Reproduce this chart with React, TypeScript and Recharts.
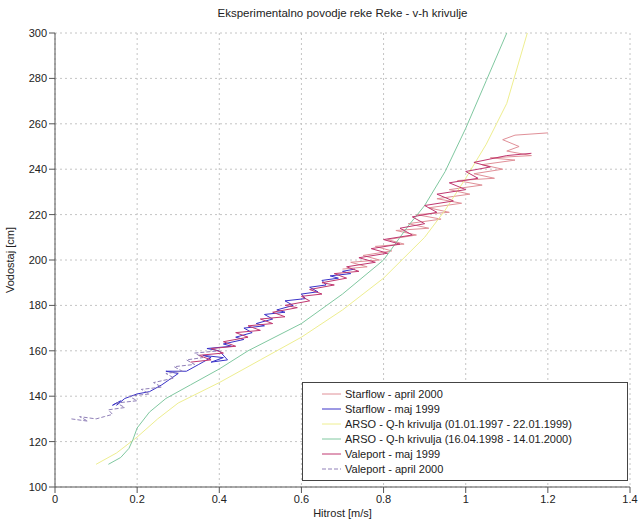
import { CartesianGrid, Label, Line, LineChart, XAxis, YAxis } from "recharts";

const xTicks = [0, 0.2, 0.4, 0.6, 0.8, 1, 1.2, 1.4];
const yTicks = [100, 120, 140, 160, 180, 200, 220, 240, 260, 280, 300];

// [hitrost m/s, vodostaj cm]
const starflowApr2000 = [
  [0.70, 196], [0.76, 197], [0.72, 199], [0.79, 200], [0.75, 202], [0.82, 204], [0.78, 206],
  [0.85, 207], [0.81, 209], [0.88, 211], [0.83, 213], [0.91, 214], [0.86, 216], [0.94, 218],
  [0.88, 220], [0.96, 221], [0.91, 223], [0.99, 225], [0.93, 227], [1.01, 229], [0.96, 231],
  [1.04, 233], [0.98, 235], [1.07, 236], [1.02, 238], [1.09, 240], [1.04, 242], [1.12, 244],
  [1.06, 245], [1.16, 246], [1.1, 248], [1.13, 250], [1.09, 253], [1.12, 255], [1.2, 256],
];

const starflowMaj1999 = [
  [0.15, 137], [0.14, 136], [0.16, 138], [0.15, 136], [0.17, 139], [0.2, 141], [0.23, 142],
  [0.26, 145], [0.3, 150], [0.27, 151], [0.32, 151], [0.35, 154], [0.38, 157], [0.36, 158],
  [0.41, 157], [0.38, 155], [0.42, 156], [0.4, 160], [0.37, 161], [0.43, 162], [0.41, 163],
  [0.46, 165], [0.44, 166], [0.48, 168], [0.46, 170], [0.51, 171], [0.49, 172], [0.53, 174],
  [0.51, 176], [0.56, 177], [0.54, 178], [0.58, 180], [0.56, 182], [0.61, 183], [0.6, 185],
  [0.64, 186], [0.62, 188], [0.66, 189], [0.65, 191], [0.69, 192], [0.67, 193], [0.72, 194],
  [0.7, 195], [0.73, 196],
];

const arso9799 = [
  [0.1, 110], [0.15, 115], [0.2, 122], [0.25, 130], [0.3, 137], [0.4, 146], [0.5, 156],
  [0.6, 166], [0.7, 178], [0.8, 192], [0.9, 210], [0.95, 222], [1.0, 236], [1.05, 251],
  [1.1, 269], [1.15, 300],
];

const arso9800 = [
  [0.13, 110], [0.16, 113], [0.18, 117], [0.19, 121], [0.2, 126], [0.23, 133], [0.27, 139],
  [0.33, 145], [0.4, 152], [0.47, 160], [0.6, 172], [0.7, 185], [0.8, 200], [0.86, 215],
  [0.9, 224], [0.95, 239], [1.0, 258], [1.05, 279], [1.1, 300],
];

const valeportMaj1999 = [
  [0.33, 155], [0.38, 156], [0.35, 158], [0.41, 159], [0.38, 161], [0.44, 162], [0.41, 164],
  [0.47, 166], [0.44, 168], [0.5, 169], [0.47, 171], [0.53, 172], [0.5, 174], [0.56, 175],
  [0.53, 177], [0.59, 179], [0.56, 180], [0.62, 182], [0.6, 184], [0.65, 185], [0.62, 187],
  [0.68, 189], [0.65, 190], [0.71, 192], [0.68, 194], [0.74, 195], [0.71, 197], [0.78, 199],
  [0.74, 201], [0.81, 203], [0.77, 205], [0.84, 207], [0.8, 209], [0.87, 211], [0.84, 214],
  [0.9, 216], [0.87, 219], [0.93, 221], [0.9, 224], [0.97, 226], [0.93, 229], [1.0, 231],
  [0.96, 234], [1.03, 236], [1.0, 239], [1.06, 241], [1.02, 243], [1.1, 246], [1.16, 247],
];

const valeportApr2000 = [
  [0.04, 130], [0.08, 129], [0.06, 131], [0.1, 130], [0.12, 131], [0.14, 132], [0.13, 134],
  [0.17, 135], [0.15, 137], [0.2, 138], [0.18, 140], [0.23, 141], [0.21, 143], [0.26, 144],
  [0.24, 146], [0.29, 148], [0.27, 150], [0.31, 151], [0.29, 153], [0.34, 154], [0.32, 156],
  [0.36, 157], [0.34, 159], [0.4, 160],
];

const series = [
  { name: "Starflow - april 2000", data: starflowApr2000, color: "#e09098", dash: undefined },
  { name: "Starflow - maj 1999", data: starflowMaj1999, color: "#3a32c8", dash: undefined },
  { name: "ARSO - Q-h krivulja (01.01.1997 - 22.01.1999)", data: arso9799, color: "#eeee90", dash: undefined },
  { name: "ARSO - Q-h krivulja (16.04.1998 - 14.01.2000)", data: arso9800, color: "#80c8a0", dash: undefined },
  { name: "Valeport - maj 1999", data: valeportMaj1999, color: "#c03870", dash: undefined },
  { name: "Valeport - april 2000", data: valeportApr2000, color: "#9080b8", dash: "4 2" },
];

const font = "'Liberation Sans', Arial, sans-serif";

const fmt = (v: number) => String(Math.round(v * 10) / 10);

export default function App() {
  return (
    <div style={{ position: "absolute", left: 0, top: 0, width: 641, height: 519, background: "#fff", fontFamily: font }}>
      <div style={{ position: "absolute", left: 55, width: 575, top: 7, textAlign: "center", fontSize: 11.5, color: "#222" }}>
        Eksperimentalno povodje reke Reke - v-h krivulje
      </div>
      <LineChart width={641} height={519} margin={{ top: 33, right: 11, bottom: 0, left: 0 }}>
        <CartesianGrid stroke="#c4c4c4" strokeDasharray="2 3" />
        <XAxis
          type="number"
          dataKey="x"
          domain={[0, 1.4]}
          ticks={xTicks}
          tickFormatter={fmt}
          allowDataOverflow
          height={32}
          stroke="#555"
          tick={{ fontSize: 11, fill: "#222", fontFamily: font }}
        >
          <Label value="Hitrost [m/s]" position="insideBottom" offset={2} style={{ fontSize: 11, fill: "#222", fontFamily: font }} />
        </XAxis>
        <XAxis xAxisId="top" orientation="top" type="number" domain={[0, 1.4]} ticks={xTicks} tick={false} height={0} stroke="#555" />
        <YAxis
          type="number"
          domain={[100, 300]}
          ticks={yTicks}
          allowDataOverflow
          width={55}
          stroke="#555"
          tick={{ fontSize: 11, fill: "#222", fontFamily: font }}
        >
          <Label value="Vodostaj [cm]" angle={-90} position="insideLeft" offset={10} style={{ fontSize: 11, fill: "#222", fontFamily: font, textAnchor: "middle" }} />
        </YAxis>
        <YAxis yAxisId="right" orientation="right" type="number" domain={[100, 300]} ticks={yTicks} tick={false} width={0} stroke="#555" />
        {series.map((s) => (
          <Line
            key={s.name}
            name={s.name}
            data={s.data.map(([x, y]) => ({ x, y }))}
            dataKey="y"
            type="linear"
            stroke={s.color}
            strokeWidth={1}
            strokeDasharray={s.dash}
            dot={false}
            isAnimationActive={false}
          />
        ))}
      </LineChart>
      <div
        style={{
          position: "absolute",
          left: 302,
          top: 382,
          width: 326,
          height: 99,
          border: "1px solid #444",
          background: "#fff",
          fontSize: 11,
          color: "#222",
          boxSizing: "border-box",
          paddingTop: 3,
        }}
      >
        {series.map((s) => (
          <div key={s.name} style={{ display: "flex", alignItems: "center", height: 15 }}>
            <svg width={40} height={15} style={{ flex: "none" }}>
              <line x1={19} x2={38} y1={8} y2={8} stroke={s.color} strokeWidth={1} strokeDasharray={s.dash} />
            </svg>
            <span style={{ marginLeft: 2, whiteSpace: "nowrap" }}>{s.name}</span>
          </div>
        ))}
      </div>
    </div>
  );
}
